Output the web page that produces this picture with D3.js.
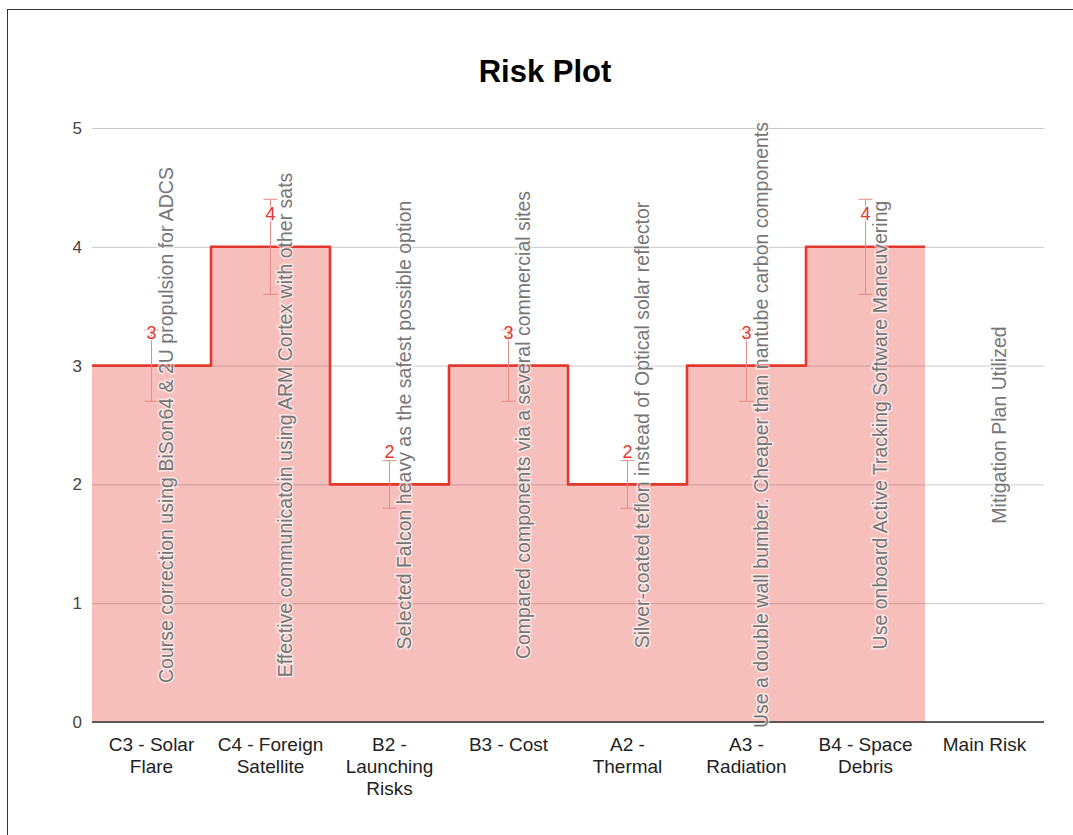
<!DOCTYPE html>
<html>
<head>
<meta charset="utf-8">
<script src="https://cdn.jsdelivr.net/npm/d3@7"></script>
<style>
  html, body { margin: 0; padding: 0; background: #fff; }
  svg { display: block; font-family: "Liberation Sans", Arial, sans-serif; }
</style>
</head>
<body>
<svg id="chart" width="1073" height="835"></svg>
<script>
// Risk categories along the x axis (each entry split into display lines)
const categories = [
  "C3 - Solar Flare",
  "C4 - Foreign Satellite",
  "B2 - Launching Risks",
  "B3 - Cost",
  "A2 - Thermal",
  "A3 - Radiation",
  "B4 - Space Debris",
  "Main Risk"
];
const categoryLines = [
  ["C3 - Solar", "Flare"],
  ["C4 - Foreign", "Satellite"],
  ["B2 -", "Launching", "Risks"],
  ["B3 - Cost"],
  ["A2 -", "Thermal"],
  ["A3 -", "Radiation"],
  ["B4 - Space", "Debris"],
  ["Main Risk"]
];
// Risk level per category (Main Risk has no value)
const riskValues = [3, 4, 2, 3, 2, 3, 4, null];
// Mitigation notes shown vertically in each column
const mitigations = [
  "Course correction using BiSon64 & 2U propulsion for ADCS",
  "Effective  communicatoin using ARM Cortex with other sats",
  "Selected Falcon heavy as the safest possible option",
  "Compared components via a several commercial sites",
  "Silver-coated teflon instead of Optical solar reflector",
  "Use a double wall bumber. Cheaper than nantube carbon components",
  "Use onboard Active Tracking Software Maneuvering",
  "Mitigation Plan Utilized"
];
const yTicks = [0, 1, 2, 3, 4, 5];
const errorPercent = 0.10;

const svg = d3.select("#chart");
const W = 1073, H = 835;
const m = { left: 92, right: 29, top: 128, bottom: 113 };
const iw = W - m.left - m.right, ih = H - m.top - m.bottom;

// outer frame
svg.append("rect").attr("x", 7.5).attr("y", 9.5)
  .attr("width", W + 10).attr("height", H + 10)
  .attr("fill", "none").attr("stroke", "#333").attr("stroke-width", 1);

const x = d3.scaleBand().domain(categories).range([0, iw]).paddingInner(0).paddingOuter(0);
const y = d3.scaleLinear().domain([0, 5]).range([ih, 0]);

const g = svg.append("g").attr("transform", `translate(${m.left},${m.top})`);

// title
svg.append("text").attr("x", 545).attr("y", 82).attr("text-anchor", "middle")
  .attr("font-size", 31).attr("font-weight", "bold").attr("fill", "#000").text("Risk Plot");

// gridlines + y labels
const yAxis = d3.axisLeft(y).tickValues(yTicks).tickSize(-iw).tickPadding(10).tickFormat(d3.format("d"));
const ya = g.append("g").call(yAxis);
ya.select(".domain").remove();
ya.selectAll(".tick line").attr("stroke", "#c8c8c8").attr("stroke-width", 1);
ya.selectAll(".tick text").attr("font-size", 17).attr("fill", "#444")
  .attr("font-family", "Liberation Sans, Arial, sans-serif");

// stepped area + line
const pts = [];
categories.forEach((c, i) => {
  if (riskValues[i] != null) pts.push([x(c), riskValues[i]]);
});
const lastIdx = riskValues.reduce((a, v, i) => v != null ? i : a, -1);
pts.push([x(categories[lastIdx]) + x.bandwidth(), riskValues[lastIdx]]);

const area = d3.area().x(d => d[0]).y0(y(0)).y1(d => y(d[1])).curve(d3.curveStepAfter);
const line = d3.line().x(d => d[0]).y(d => y(d[1])).curve(d3.curveStepAfter);

g.append("path").datum(pts).attr("d", area).attr("fill", "#e2382f").attr("fill-opacity", 0.32);
g.append("path").datum(pts).attr("d", line).attr("fill", "none")
  .attr("stroke", "#e2382f").attr("stroke-width", 2.6).attr("stroke-linejoin", "round");

// baseline
g.append("line").attr("x1", 0).attr("x2", iw).attr("y1", y(0)).attr("y2", y(0))
  .attr("stroke", "#333").attr("stroke-width", 1.5);

// x labels
const xl = g.append("g");
categories.forEach((c, i) => {
  const t = xl.append("text").attr("x", x(c) + x.bandwidth() / 2).attr("y", ih + 29)
    .attr("text-anchor", "middle").attr("font-size", 19).attr("fill", "#222");
  categoryLines[i].forEach((ln, k) => {
    t.append("tspan").attr("x", x(c) + x.bandwidth() / 2).attr("dy", k === 0 ? 0 : 22).text(ln);
  });
});

// vertical mitigation notes
categories.forEach((c, i) => {
  const cx = x(c) + x.bandwidth() / 2 + 15;
  const cy = y(2.5);
  g.append("text").attr("transform", `translate(${cx},${cy}) rotate(-90)`)
    .attr("text-anchor", "middle").attr("dy", "0.35em")
    .attr("font-size", 19.5).attr("fill", "#777")
    .attr("stroke", "#fff").attr("stroke-width", 3).attr("stroke-opacity", 0.6)
    .attr("paint-order", "stroke")
    .text(mitigations[i]);
});

// error bars (±10%) and value labels
categories.forEach((c, i) => {
  const v = riskValues[i];
  if (v == null) return;
  const cx = x(c) + x.bandwidth() / 2;
  const lo = v * (1 - errorPercent), hi = v * (1 + errorPercent);
  const eb = g.append("g").attr("stroke", "#e88a85").attr("stroke-width", 1);
  eb.append("line").attr("x1", cx).attr("x2", cx).attr("y1", y(lo)).attr("y2", y(hi));
  eb.append("line").attr("x1", cx - 7).attr("x2", cx + 7).attr("y1", y(lo)).attr("y2", y(lo));
  eb.append("line").attr("x1", cx - 7).attr("x2", cx + 7).attr("y1", y(hi)).attr("y2", y(hi));
  g.append("text").attr("x", cx).attr("y", y(v) - 33).attr("dy", "0.35em")
    .attr("text-anchor", "middle").attr("font-size", 18).attr("fill", "#e2382f")
    .attr("stroke", "#fff").attr("stroke-width", 3).attr("stroke-opacity", 0.7)
    .attr("paint-order", "stroke")
    .text(v);
});
</script>
</body>
</html>
